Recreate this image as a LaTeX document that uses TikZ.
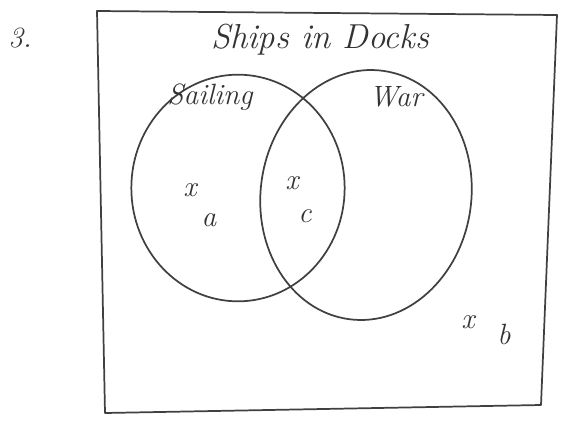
\documentclass[tikz,border=0pt]{standalone}
\usetikzlibrary{shapes.geometric}
\begin{document}
\begin{tikzpicture}[x=0.75pt,y=-0.75pt,
  hand/.style={draw=black!75,line width=1.3pt,line join=round,line cap=round},
  lbl/.style={font=\fontsize{22}{26}\selectfont\itshape,text=black!80,inner sep=0pt}]
\useasboundingbox (0,0) rectangle (568,425);
% frame
\coordinate (p1) at (97,11);
\coordinate (p2) at (557,15);
\coordinate (p3) at (541,405);
\coordinate (p4) at (105,413);
\draw[hand] (p1) -- (p2) -- (p3) -- (p4) -- cycle;
% circles
\node[hand,ellipse,minimum width=160pt,minimum height=170pt,inner sep=0pt] (sail) at (238,188) {};
\node[hand,ellipse,minimum width=158pt,minimum height=188pt,inner sep=0pt,rotate=-8] (war) at (366,195) {};
% texts
\node[lbl] (num) at (20,38) {3.};
\node[lbl,font=\fontsize{26}{30}\selectfont\itshape] (title) at (320,40) {Ships in Docks};
\node[lbl] (ls) at (210,97) {Sailing};
\node[lbl] (lw) at (396,97) {War};
\node[lbl] (xa) at (190,190) {x};
\node[lbl] (a) at (209,220) {a};
\node[lbl] (xc) at (292,183) {x};
\node[lbl] (c) at (305,216) {c};
\node[lbl] (xb) at (468,322) {x};
\node[lbl] (b) at (504,334) {b};
\end{tikzpicture}
\end{document}
